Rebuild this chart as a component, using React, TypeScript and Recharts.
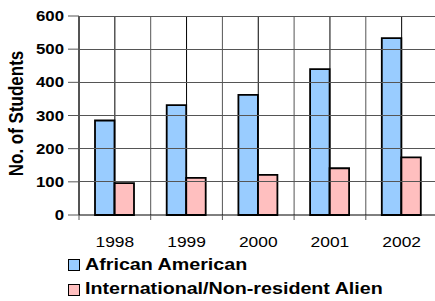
import React from 'react';
import { BarChart, Bar, XAxis, YAxis, ReferenceLine } from 'recharts';

const years = ['1998', '1999', '2000', '2001', '2002'];
const africanAmerican = [285, 331, 362, 440, 533];
const international = [96, 112, 121, 141, 174];
const yTicks = [0, 100, 200, 300, 400, 500, 600];
const seriesNames = ['African American', 'International/Non-resident Alien'];
const seriesColors = ['#99CCFF', '#FFBFBF'];
const yAxisTitle = 'No. of Students';

const data = years.map((y, i) => ({ year: y, aa: africanAmerican[i], intl: international[i] }));

const FONT = '"Liberation Sans", Arial, sans-serif';
const SX = 1.2;
const GRID = '#555';
const CHART_W = 445;
const MARGIN_R = 7.5;
const Y_TICK_SIZE = 11;
const Y_TICK_MARGIN = 4;

const YTick = (props: any) => {
  const { x, y, payload } = props;
  const axisX = x + Y_TICK_SIZE + Y_TICK_MARGIN;
  return (
    <g>
      {payload.value > 0 && (
        <line
          x1={axisX}
          x2={CHART_W - MARGIN_R}
          y1={y}
          y2={y}
          stroke={GRID}
          strokeWidth={1}
          shapeRendering="crispEdges"
        />
      )}
      <text
        transform={`translate(${x},${y}) scale(${SX},1)`}
        textAnchor="end"
        dy="0.36em"
        fontFamily={FONT}
        fontWeight="bold"
        fontSize={14}
        fill="#000"
      >
        {payload.value}
      </text>
    </g>
  );
};

const XTick = (props: any) => {
  const { x, y, payload, visibleTicksCount } = props;
  const half = payload.offset || 0;
  const isLast = payload.index === (visibleTicksCount ?? years.length) - 1;
  return (
    <g>
      <line x1={x - half} x2={x - half} y1={y} y2={y + 5} stroke={GRID} strokeWidth={1} />
      {isLast && <line x1={x + half} x2={x + half} y1={y} y2={y + 5} stroke={GRID} strokeWidth={1} />}
      <text
        transform={`translate(${x},${y + 32}) scale(${SX},1)`}
        textAnchor="middle"
        fontFamily={FONT}
        fontSize={14.5}
        fill="#000"
      >
        {payload.value}
      </text>
    </g>
  );
};

const YLabel = () => (
  <text
    transform={`translate(22.5,113.5) scale(${SX},1) rotate(-90)`}
    textAnchor="middle"
    fontFamily={FONT}
    fontWeight="bold"
    fontSize={17}
    fill="#000"
  >
    {yAxisTitle}
  </text>
);

export default function App() {
  return (
    <div style={{ position: 'absolute', left: 0, top: 0, width: 435, height: 301, overflow: 'hidden', background: '#fff' }}>
      <BarChart
        width={CHART_W}
        height={301}
        data={data}
        margin={{ top: 16, right: MARGIN_R, bottom: 56, left: 0 }}
        barGap={0}
      >
        {years.map((y) => (
          <ReferenceLine key={'s' + y} x={y} position="start" stroke={GRID} strokeWidth={1} />
        ))}
        <ReferenceLine x={years[years.length - 1]} position="end" stroke={GRID} strokeWidth={1} />
        {years.map((y) => (
          <ReferenceLine key={'c' + y} x={y} stroke="#000" strokeWidth={1} />
        ))}
        <XAxis
          dataKey="year"
          height={30}
          tickSize={0}
          tickMargin={0}
          tickLine={false}
          axisLine={{ stroke: '#000', strokeWidth: 1 }}
          tick={<XTick />}
          interval={0}
        />
        <YAxis
          width={79}
          domain={[0, 600]}
          ticks={yTicks}
          interval={0}
          tickSize={Y_TICK_SIZE}
          tickMargin={Y_TICK_MARGIN}
          axisLine={{ stroke: '#000', strokeWidth: 1 }}
          tickLine={{ stroke: GRID, strokeWidth: 1 }}
          tick={<YTick />}
          label={{ content: () => <YLabel /> }}
        />
        <Bar dataKey="aa" name={seriesNames[0]} fill={seriesColors[0]} stroke="#000" strokeWidth={1.8} barSize={19.5} isAnimationActive={false} />
        <Bar dataKey="intl" name={seriesNames[1]} fill={seriesColors[1]} stroke="#000" strokeWidth={1.8} barSize={19.5} isAnimationActive={false} />
      </BarChart>
      {seriesNames.map((name, i) => (
        <div key={name} style={{ position: 'absolute', left: 68, top: 259 + i * 24.5, height: 12 }}>
          <div
            style={{
              position: 'absolute',
              left: 0,
              top: 0,
              width: 10,
              height: 10,
              background: seriesColors[i],
              border: '1px solid #000',
            }}
          />
          <div
            style={{
              position: 'absolute',
              left: 17,
              top: -2.5,
              fontFamily: FONT,
              fontWeight: 'bold',
              fontSize: 16,
              lineHeight: '16px',
              whiteSpace: 'nowrap',
              transform: `scale(1.23,1)`,
              transformOrigin: 'left top',
              color: '#000',
            }}
          >
            {name}
          </div>
        </div>
      ))}
    </div>
  );
}
